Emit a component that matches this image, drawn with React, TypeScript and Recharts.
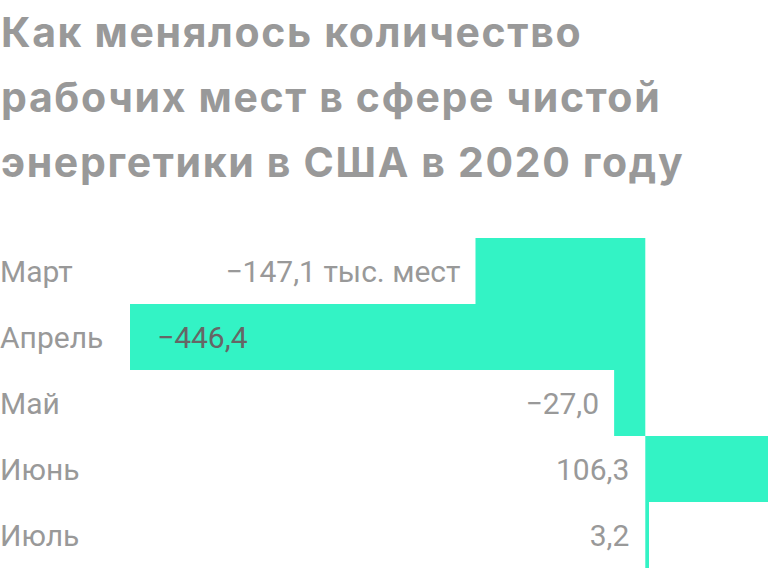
import React from "react"
import { BarChart, Bar, XAxis, YAxis, LabelList } from "recharts"

const months = ["Март", "Апрель", "Май", "Июнь", "Июль"]
const changes = [-147.1, -446.4, -27.0, 106.3, 3.2]
const suffixes = [" тыс. мест", "", "", "", ""]

const data = months.map((month, i) => ({ month, value: changes[i], suffix: suffixes[i] }))

const FONT = "Roboto, 'Noto Sans', sans-serif"
const TITLE_FONT = "Inter, Roboto, sans-serif"
const GREY = "#999999"
const TEAL = "#33f3c5"

function fmt(v: number) {
  const s = Math.abs(v).toFixed(1).replace(".", ",")
  return (v < 0 ? "\u2212" : "") + s
}

function MonthTick(props: any) {
  const { y, payload } = props
  return (
    <text x={0} y={y} dy={10.5} fill={GREY} fontSize={30} fontFamily={FONT} textAnchor="start">
      {payload.value}
    </text>
  )
}

function ValueLabel(props: any) {
  const { x, y, width, height, index } = props
  const v = changes[index]
  const left = Math.min(x, x + width)
  const right = Math.max(x, x + width)
  const zero = v < 0 ? right : left
  const cy = y + height / 2 + 10.5
  const text = fmt(v) + suffixes[index]
  if (right - left > 300) {
    return (
      <text x={left + 27} y={cy} fill="#666666" fontSize={30} fontFamily={FONT} textAnchor="start">
        {text}
      </text>
    )
  }
  const end = v < 0 ? left - 15 : zero - 16
  return (
    <text x={end} y={cy} fill={GREY} fontSize={30} fontFamily={FONT} textAnchor="end">
      {text}
    </text>
  )
}

export default function App() {
  return (
    <div style={{ position: "absolute", left: 0, top: 0, width: 768, height: 572, background: "#fff", overflow: "hidden" }}>
      <div
        style={{
          position: "absolute",
          left: 1,
          top: 0,
          fontFamily: TITLE_FONT,
          fontWeight: 700,
          fontSize: 41,
          letterSpacing: "1.65px",
          lineHeight: "65px",
          color: GREY,
          whiteSpace: "nowrap",
        }}
      >
        Как менялось количество
        <br />
        рабочих мест в сфере чистой
        <br />
        энергетики в США в 2020 году
      </div>
      <div style={{ position: "absolute", left: 0, top: 0 }}>
        <BarChart
          width={768}
          height={572}
          data={data}
          layout="vertical"
          barCategoryGap={0}
          margin={{ top: 238, right: 0, bottom: 4, left: 0 }}
        >
          <XAxis type="number" hide domain={[-446.4, 106.3]} allowDataOverflow />
          <YAxis
            type="category"
            dataKey="month"
            width={130}
            axisLine={false}
            tickLine={false}
            tick={<MonthTick />}
          />
          <Bar dataKey="value" fill={TEAL} isAnimationActive={false}>
            <LabelList dataKey="value" content={<ValueLabel />} />
          </Bar>
        </BarChart>
      </div>
    </div>
  )
}
